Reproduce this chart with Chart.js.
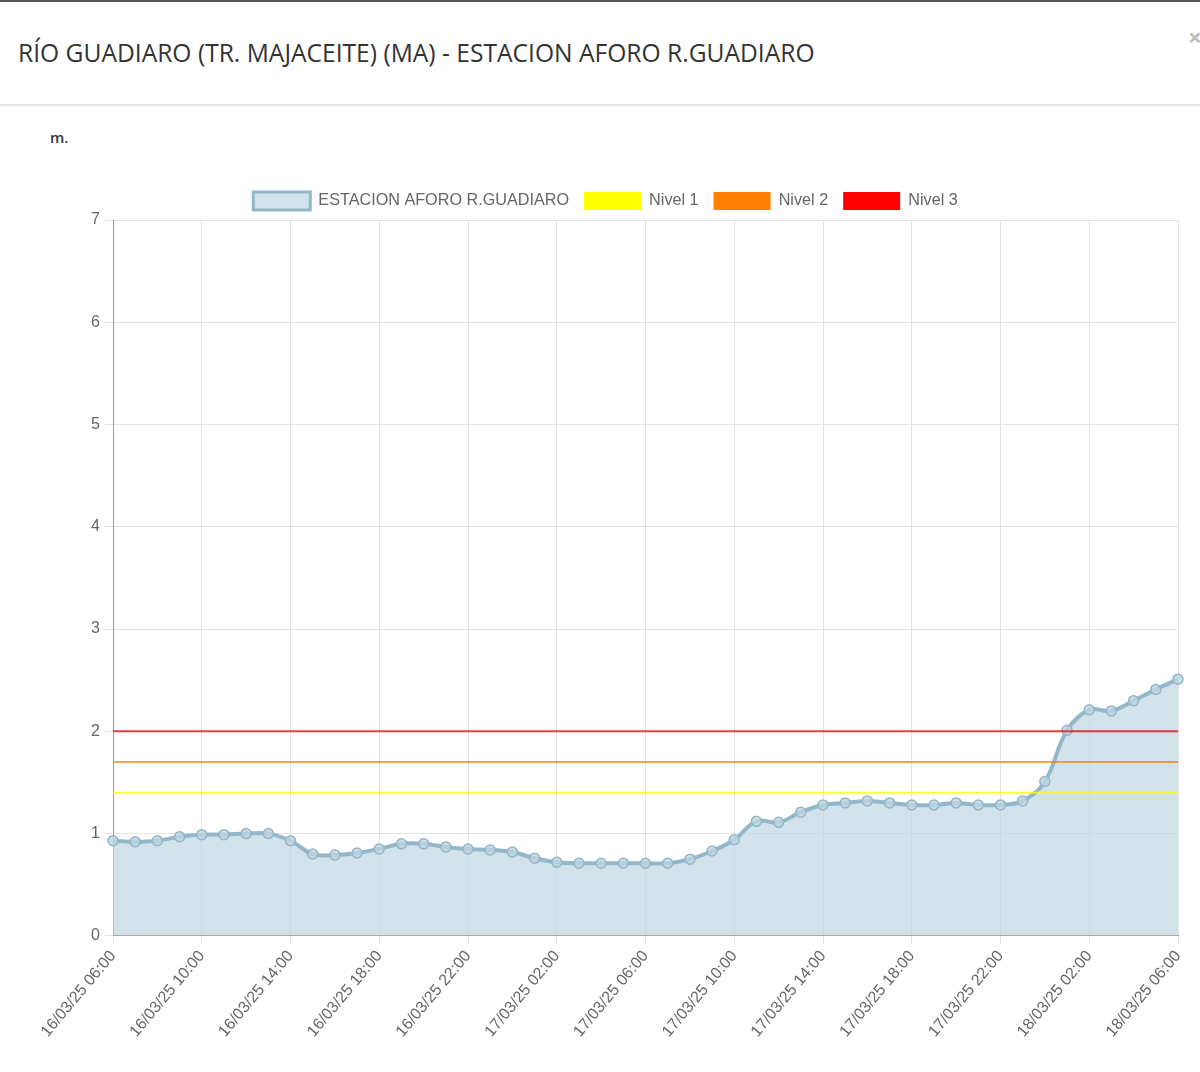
<!DOCTYPE html>
<html>
<head>
<meta charset="utf-8">
<script src="https://cdn.jsdelivr.net/npm/chart.js@4/dist/chart.umd.min.js"></script>
<style>
  html, body { margin: 0; padding: 0; background: #fff; }
  body { width: 1200px; height: 1072px; position: relative; overflow: hidden; font-family: "Open Sans", sans-serif; }
  #topline { position: absolute; left: 0; top: 0; width: 1200px; height: 2px; background: #555; }
  #title { position: absolute; left: 18px; top: 36px; font-size: 24.6px; color: #333; white-space: nowrap; }
  #close { position: absolute; left: 1188px; top: 20px; font-size: 24px; color: #bbb; font-weight: bold; }
  #sep { position: absolute; left: 0; top: 104px; width: 1200px; height: 2px; background: #e5e5e5; }
  #unit { position: absolute; left: 50px; top: 127px; font-size: 15px; font-weight: 600; color: #333; }
  #wrap { position: absolute; left: 11px; top: 177px; width: 1189px; height: 895px; }
</style>
</head>
<body>
<div id="topline"></div>
<div id="title">RÍO GUADIARO (TR. MAJACEITE) (MA) - ESTACION AFORO R.GUADIARO</div>
<div id="close">×</div>
<div id="sep"></div>
<div id="unit">m.</div>
<div id="wrap"><canvas id="c"></canvas></div>
<script>
const labels = [
  "16/03/25 06:00","16/03/25 07:00","16/03/25 08:00","16/03/25 09:00","16/03/25 10:00","16/03/25 11:00","16/03/25 12:00","16/03/25 13:00",
  "16/03/25 14:00","16/03/25 15:00","16/03/25 16:00","16/03/25 17:00","16/03/25 18:00","16/03/25 19:00","16/03/25 20:00","16/03/25 21:00",
  "16/03/25 22:00","16/03/25 23:00","17/03/25 00:00","17/03/25 01:00","17/03/25 02:00","17/03/25 03:00","17/03/25 04:00","17/03/25 05:00",
  "17/03/25 06:00","17/03/25 07:00","17/03/25 08:00","17/03/25 09:00","17/03/25 10:00","17/03/25 11:00","17/03/25 12:00","17/03/25 13:00",
  "17/03/25 14:00","17/03/25 15:00","17/03/25 16:00","17/03/25 17:00","17/03/25 18:00","17/03/25 19:00","17/03/25 20:00","17/03/25 21:00",
  "17/03/25 22:00","17/03/25 23:00","18/03/25 00:00","18/03/25 01:00","18/03/25 02:00","18/03/25 03:00","18/03/25 04:00","18/03/25 05:00",
  "18/03/25 06:00"
];
const nivelRio = [
  0.93,0.92,0.93,0.97,0.99,0.99,1.00,1.00,
  0.93,0.80,0.79,0.81,0.85,0.90,0.90,0.87,
  0.85,0.84,0.82,0.76,0.72,0.71,0.71,0.71,
  0.71,0.71,0.75,0.83,0.94,1.12,1.11,1.21,
  1.28,1.30,1.32,1.30,1.28,1.28,1.30,1.28,
  1.28,1.32,1.51,2.01,2.21,2.20,2.30,2.41,
  2.51
];
const umbralNivel1 = 1.4;
const umbralNivel2 = 1.7;
const umbralNivel3 = 2.0;
const yTicks = [0,1,2,3,4,5,6,7];

const flat = v => labels.map(() => v);

Chart.defaults.font.family = "'Liberation Sans', Arial, sans-serif";
Chart.defaults.color = '#666';

new Chart(document.getElementById('c'), {
  type: 'line',
  data: {
    labels: labels,
    datasets: [
      {
        label: 'ESTACION AFORO R.GUADIARO',
        data: nivelRio,
        borderColor: '#93b7c9',
        backgroundColor: 'rgba(190,213,225,0.7)',
        borderWidth: 4,
        fill: 'origin',
        tension: 0.4,
        pointRadius: 5,
        pointBorderWidth: 1.5,
        pointBackgroundColor: 'rgba(190,213,225,0.8)',
        pointBorderColor: '#93b7c9',
        order: 4
      },
      {
        label: 'Nivel 1',
        data: flat(umbralNivel1),
        borderColor: 'rgba(255,255,0,0.75)',
        backgroundColor: '#ffff00',
        borderWidth: 2,
        pointRadius: 0,
        fill: false,
        order: 1
      },
      {
        label: 'Nivel 2',
        data: flat(umbralNivel2),
        borderColor: 'rgba(255,128,0,0.75)',
        backgroundColor: '#ff8000',
        borderWidth: 2,
        pointRadius: 0,
        fill: false,
        order: 2
      },
      {
        label: 'Nivel 3',
        data: flat(umbralNivel3),
        borderColor: 'rgba(230,0,0,0.75)',
        backgroundColor: '#ff0000',
        borderWidth: 2,
        pointRadius: 0,
        fill: false,
        order: 3
      }
    ]
  },
  options: {
    responsive: true,
    maintainAspectRatio: false,
    animation: false,
    layout: { padding: { left: 22, right: 22, top: 0, bottom: 28 } },
    plugins: {
      legend: {
        display: true,
        labels: {
          boxWidth: 57,
          boxHeight: 18,
          font: { size: 16.2 },
          color: '#666',
          padding: 15,
          generateLabels: chart => chart.data.datasets.map((ds, i) => ({
            text: ds.label,
            fillStyle: i === 0 ? '#d0e2ec' : ds.backgroundColor,
            strokeStyle: i === 0 ? '#93b7c9' : ds.backgroundColor,
            lineWidth: i === 0 ? 3 : 0,
            fontColor: '#666',
            hidden: false,
            datasetIndex: i
          }))
        }
      },
      tooltip: { enabled: false }
    },
    scales: {
      x: {
        ticks: {
          autoSkip: false,
          maxRotation: 50,
          minRotation: 50,
          font: { size: 16 },
          color: '#666',
          callback: function(v, i) { return i % 4 === 0 ? labels[i] : null; }
        },
        grid: { color: '#e3e3e3', tickLength: 8 },
        border: { color: '#999' }
      },
      y: {
        min: 0,
        max: 7,
        afterBuildTicks: axis => { axis.ticks = yTicks.map(v => ({ value: v })); },
        afterFit: axis => { axis.width = 80; },
        ticks: { font: { size: 16 }, color: '#666', padding: 5 },
        grid: { color: '#e3e3e3', tickLength: 8 },
        border: { color: '#999' }
      }
    }
  }
});
</script>
</body>
</html>
